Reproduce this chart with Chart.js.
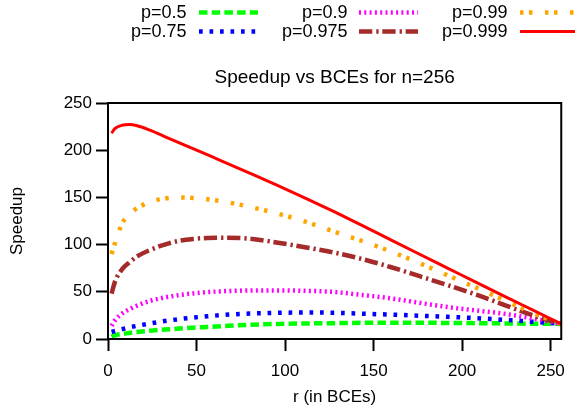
<!DOCTYPE html>
<html>
<head>
<meta charset="utf-8">
<title>Speedup vs BCEs for n=256</title>
<script src="https://cdn.jsdelivr.net/npm/chart.js@4/dist/chart.umd.min.js"></script>
<style>
  html, body { margin: 0; padding: 0; background: #ffffff; }
  #wrap { width: 575px; height: 417px; }
</style>
</head>
<body>
<div id="wrap"><canvas id="chart" width="575" height="417"></canvas></div>
<script>
// r = number of BCEs devoted to the core
const rValues = [2, 4, 8, 12, 16, 24, 32, 40, 48, 56, 64, 80, 96, 112, 128, 144, 160, 176, 192, 208, 224, 240, 256];

// speedup for each parallel fraction p
const speedupP0500 = [2.5, 4, 5.3, 6.4, 7.3, 8.8, 10, 11, 12, 12.8, 13.6, 15.1, 16, 16.5, 16.8, 17.1, 17.2, 17.2, 17, 16.8, 16.5, 16.2, 16];
const speedupP0750 = [7.5, 8.5, 10.5, 12.3, 13.8, 16.5, 19, 21, 22.7, 24, 25.3, 27, 27.8, 28, 27.8, 26.8, 25.8, 24.7, 23.5, 22.1, 20.3, 18.2, 16];
const speedupP0900 = [14, 20, 27, 31.5, 35, 40.5, 44, 46.5, 48.3, 49.6, 50.5, 51.4, 51.5, 51, 49.8, 46.5, 43, 38.3, 33.8, 30.2, 26.7, 21.7, 16];
const speedupP0975 = [48, 61, 74, 81, 87, 94.5, 100, 104, 106, 107, 107.3, 106.3, 102, 97, 91.5, 84.5, 76, 66.5, 57, 47, 36, 25, 16];
const speedupP0990 = [90, 102, 122.5, 132, 138, 145.5, 148.7, 150, 149.4, 148, 146, 140, 132.7, 124, 113.5, 103.5, 92.5, 80.3, 67.3, 54.3, 41, 27.3, 16];
const speedupP0999 = [218, 223, 226.5, 227.2, 226.2, 221, 214.5, 208, 201.6, 195.2, 188.8, 175.8, 162.6, 148.8, 134.6, 119.9, 104.8, 89.8, 74.9, 60, 45.2, 30.6, 16];

const seriesLabels = ['p=0.5', 'p=0.75', 'p=0.9', 'p=0.975', 'p=0.99', 'p=0.999'];
const seriesValues = [speedupP0500, speedupP0750, speedupP0900, speedupP0975, speedupP0990, speedupP0999];

const xTickValues = [0, 50, 100, 150, 200, 250];
const yTickValues = [0, 50, 100, 150, 200, 250];

const chartTitle = 'Speedup vs BCEs for n=256';

// line styles
const seriesStyles = [
  { color: '#00ff00', width: 4.5, dash: [8.5, 4.2] },
  { color: '#0000ff', width: 4.5, dash: [3.7, 6.8] },
  { color: '#ff00ff', width: 4.5, dash: [2, 3.3] },
  { color: '#a52a2a', width: 4.5, dash: [13.3, 4, 2.3, 3.7] },
  { color: '#ffa500', width: 4.5, dash: [3.5, 5.5, 3.5, 12.5] },
  { color: '#ff0000', width: 3, dash: [] }
];

const FONT = '"Liberation Sans", Arial, Helvetica, sans-serif';

const datasets = seriesValues.map((vals, i) => ({
  label: seriesLabels[i],
  data: rValues.map((r, k) => ({ x: r, y: vals[k] })),
  borderColor: seriesStyles[i].color,
  backgroundColor: seriesStyles[i].color,
  borderWidth: seriesStyles[i].width,
  borderDash: seriesStyles[i].dash,
  borderCapStyle: 'butt',
  pointRadius: 0,
  pointHoverRadius: 0,
  fill: false,
  cubicInterpolationMode: 'monotone',
  order: seriesValues.length - 1 - i
}));

// frame around the plot area
const framePlugin = {
  id: 'frame',
  afterDatasetsDraw(chart) {
    const { ctx, chartArea: a } = chart;
    ctx.save();
    ctx.strokeStyle = '#000000';
    ctx.lineWidth = 2;
    ctx.setLineDash([]);
    ctx.strokeRect(a.left, a.top, a.right - a.left, a.bottom - a.top);
    ctx.restore();
  }
};

// title centred over the plot area
const plotTitlePlugin = {
  id: 'plotTitle',
  afterDraw(chart) {
    const { ctx, chartArea: a } = chart;
    ctx.save();
    ctx.font = '19px ' + FONT;
    ctx.fillStyle = '#000000';
    ctx.textAlign = 'center';
    ctx.textBaseline = 'alphabetic';
    ctx.fillText(chartTitle, (a.left + a.right) / 2, 83);
    ctx.restore();
  }
};

// key in three columns, sample line to the right of each label
const keyPlugin = {
  id: 'key',
  afterDraw(chart) {
    const { ctx } = chart;
    const colText = [186.5, 347.5, 507.5];
    const colLine = [[199, 258], [359, 418], [520, 580]];
    const rowY = [12.5, 31.5];
    ctx.save();
    ctx.font = '18px ' + FONT;
    ctx.textAlign = 'right';
    ctx.textBaseline = 'middle';
    seriesLabels.forEach((lab, i) => {
      const col = Math.floor(i / 2);
      const row = i % 2;
      const y = rowY[row];
      ctx.fillStyle = '#000000';
      ctx.fillText(lab, colText[col], y + 0.5);
      const st = seriesStyles[i];
      ctx.beginPath();
      ctx.strokeStyle = st.color;
      ctx.lineWidth = st.width;
      ctx.lineCap = 'butt';
      ctx.setLineDash(st.dash);
      ctx.moveTo(colLine[col][0], y);
      ctx.lineTo(colLine[col][1], y);
      ctx.stroke();
    });
    ctx.restore();
  }
};

new Chart(document.getElementById('chart'), {
  type: 'line',
  data: { datasets },
  options: {
    responsive: false,
    animation: false,
    devicePixelRatio: 1,
    layout: { padding: { top: 103, right: 8, bottom: 0, left: 0 } },
    plugins: {
      legend: { display: false },
      tooltip: { enabled: false },
      title: { display: false }
    },
    scales: {
      x: {
        type: 'linear',
        min: 0,
        max: 256,
        afterBuildTicks(scale) { scale.ticks = xTickValues.map(v => ({ value: v })); },
        afterFit(scale) { scale.height = 78; },
        grid: { drawOnChartArea: false, drawTicks: true, tickLength: 12, tickWidth: 2, tickColor: '#000000' },
        border: { display: false },
        ticks: { color: '#000000', font: { family: FONT, size: 17 }, padding: 10, maxRotation: 0, autoSkip: false },
        title: { display: true, text: 'r (in BCEs)', color: '#000000', font: { family: FONT, size: 17 }, padding: { top: 0, bottom: 9 } }
      },
      y: {
        type: 'linear',
        min: 0,
        max: 250,
        afterBuildTicks(scale) { scale.ticks = yTickValues.map(v => ({ value: v })); },
        afterFit(scale) { scale.width = 108; },
        grid: { drawOnChartArea: false, drawTicks: true, tickLength: 12, tickWidth: 2, tickColor: '#000000' },
        border: { display: false },
        ticks: { color: '#000000', font: { family: FONT, size: 17 }, padding: 4, autoSkip: false },
        title: { display: true, text: 'Speedup', color: '#000000', font: { family: FONT, size: 17 }, padding: { top: 7, bottom: 0 } }
      }
    }
  },
  plugins: [framePlugin, plotTitlePlugin, keyPlugin]
});
</script>
</body>
</html>
